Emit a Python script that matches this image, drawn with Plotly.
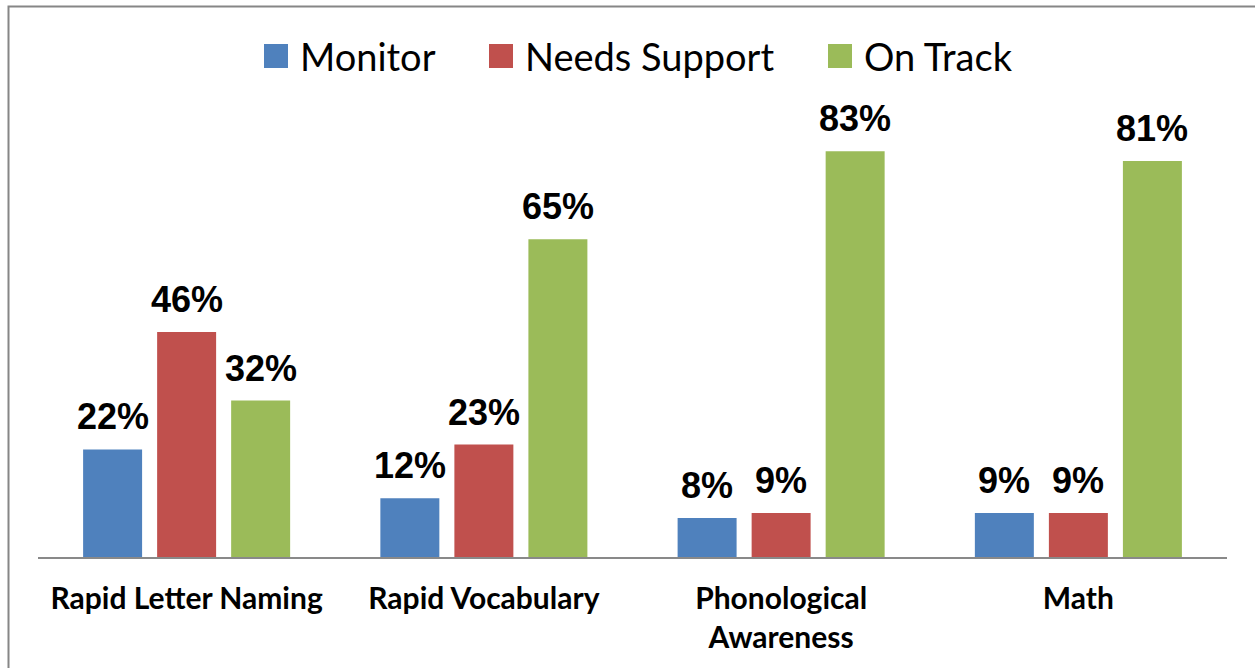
import plotly.graph_objects as go

categories = ["Rapid Letter Naming", "Rapid Vocabulary", "Phonological<br>Awareness", "Math"]
series_names = ["Monitor", "Needs Support", "On Track"]
monitor = [22, 12, 8, 9]
needs_support = [46, 23, 9, 9]
on_track = [32, 65, 83, 81]
colors = ["#4F81BD", "#C0504D", "#9BBB59"]

values = [monitor, needs_support, on_track]

L, R, T, B = 38, 28, 117, 111
H = 668 - T - B
W = 1255 - L - R
SLOT = W / len(categories) * (1 - 0.253) / 3


def px_x(p):
    return (p - L) / W


def px_y(p):
    return (668 - B - p) / H


fig = go.Figure()
annotations = []
for i, (name, vals, col) in enumerate(zip(series_names, values, colors)):
    fig.add_trace(go.Bar(
        x=categories, y=vals, name=name,
        marker=dict(color=col, line=dict(width=0)),
        cliponaxis=False, showlegend=False,
    ))
    for c, v in zip(categories, vals):
        annotations.append(dict(
            x=c, y=v, xref="x", yref="y", text=f"<b>{v}%</b>", showarrow=False,
            xanchor="center", yanchor="bottom", xshift=(i - 1) * SLOT, yshift=10,
            font=dict(family="Liberation Sans, Arial", size=36, color="#000000"),
        ))

# legend drawn as squares + labels
legend_sq_x = [264, 489, 828]
shapes = []
for name, col, sx in zip(series_names, colors, legend_sq_x):
    shapes.append(dict(type="rect", xref="paper", yref="paper",
                       x0=px_x(sx), x1=px_x(sx + 24), y0=px_y(68), y1=px_y(44),
                       fillcolor=col, line=dict(width=0)))
    annotations.append(dict(x=px_x(sx + 34), y=px_y(56), xref="paper", yref="paper",
                            text=name, showarrow=False, xanchor="left", yanchor="middle",
                            font=dict(family="Lato, Open Sans", size=38, color="#000000")))

shapes.append(dict(type="rect", xref="paper", yref="paper",
                   x0=px_x(8.5), x1=px_x(1270), y0=px_y(690), y1=px_y(6.5),
                   line=dict(color="#868686", width=2), layer="below"))

fig.update_layout(
    width=1255, height=668,
    margin=dict(l=L, r=R, t=T, b=B, pad=0),
    paper_bgcolor="white", plot_bgcolor="white",
    barmode="group", bargap=0.253, bargroupgap=0.203,
    showlegend=False,
    xaxis=dict(showline=True, linecolor="#898989", linewidth=2, showgrid=False,
               ticks="outside", ticklen=14, tickcolor="rgba(0,0,0,0)",
               tickfont=dict(family="Lato, Open Sans", size=30, color="#000000"),
               tickprefix="<b>", ticksuffix="</b>"),
    yaxis=dict(visible=False, range=[0, H / 4.89], showgrid=False, zeroline=False),
    shapes=shapes,
    annotations=annotations,
)

fig.write_html("out.html", config={"displayModeBar": False},
               post_script="document.body.style.margin='0';document.body.style.padding='0';")
